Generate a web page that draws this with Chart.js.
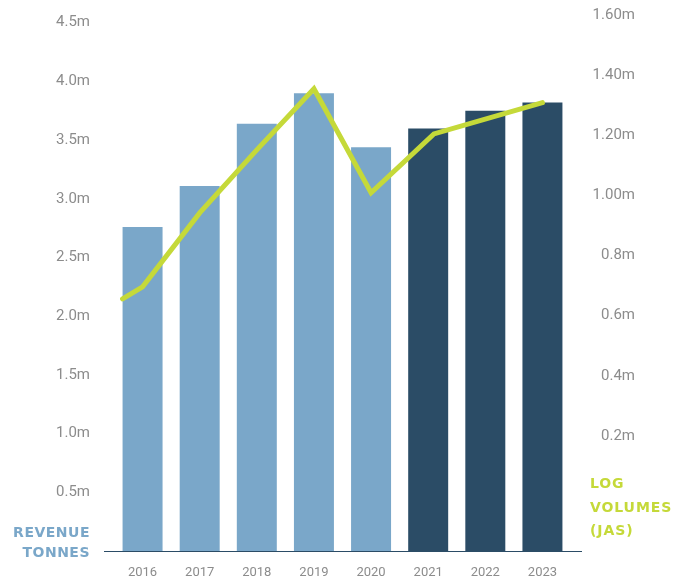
<!DOCTYPE html>
<html>
<head>
<meta charset="utf-8">
<script src="https://cdn.jsdelivr.net/npm/chart.js@4.4.0/dist/chart.umd.min.js"></script>
<style>
  html, body { margin: 0; padding: 0; background: #fff; }
  #wrap { position: relative; width: 691px; height: 579px; }
  #chart { position: absolute; left: 0; top: 0; }
  .ttl { position: absolute; font: bold 14px "DejaVu Sans", sans-serif; white-space: nowrap; }
</style>
</head>
<body>
<div id="wrap">
  <canvas id="chart" width="691" height="579"></canvas>
  <div class="ttl" style="right:601px; top:522px; line-height:20px; text-align:right; color:#7aa7c9; letter-spacing:0.5px;">REVENUE<br>TONNES</div>
  <div class="ttl" style="left:590px; top:472px; line-height:23.5px; color:#c5d939; letter-spacing:0.9px;">LOG<br>VOLUMES<br>(JAS)</div>
</div>
<script>
// revenue tonnes per year (millions)
const years = ['2016', '2017', '2018', '2019', '2020', '2021', '2022', '2023'];
const revenueTonnes = [2.76, 3.11, 3.64, 3.90, 3.44, 3.60, 3.75, 3.82];

// log volumes line (millions), positions along the year axis
const logVolumeX = [2015.65, 2016, 2017, 2018, 2019, 2020, 2021.1, 2023];
const logVolumes = [0.656, 0.696, 0.942, 1.152, 1.355, 1.009, 1.205, 1.309];

// axis ticks
const leftTicks = [0.5, 1.0, 1.5, 2.0, 2.5, 3.0, 3.5, 4.0, 4.5];
const rightTicks = [0.2, 0.4, 0.6, 0.8, 1.0, 1.2, 1.4, 1.6];
const rightTickLabels = ['0.2m', '0.4m', '0.6m', '0.8m', '1.00m', '1.20m', '1.40m', '1.60m'];

const lightBlue = '#7aa7c9';
const navy = '#2b4c66';
const lime = '#c5d939';
const tickGrey = '#8c8c8c';

// baseline under the bars, a bit wider than the plot area
const baseline = {
  id: 'baseline',
  afterDatasetsDraw(chart) {
    const {ctx, chartArea} = chart;
    const y = chart.scales.y.getPixelForValue(0);
    ctx.save();
    ctx.strokeStyle = navy;
    ctx.lineWidth = 1.2;
    ctx.beginPath();
    ctx.moveTo(chartArea.left - 10, y + 0.5);
    ctx.lineTo(chartArea.right + 11, y + 0.5);
    ctx.stroke();
    ctx.restore();
  }
};

window.onload = function() {
  const ctx = document.getElementById('chart').getContext('2d');
  new Chart(ctx, {
    data: {
      labels: years,
      datasets: [{
        type: 'line',
        label: 'Log volumes (JAS)',
        data: logVolumeX.map((x, i) => ({x: x, y: logVolumes[i]})),
        xAxisID: 'x2',
        yAxisID: 'y2',
        borderColor: lime,
        borderWidth: 5,
        borderCapStyle: 'round',
        borderJoinStyle: 'miter',
        pointRadius: 0,
        tension: 0,
        order: 0
      }, {
        type: 'bar',
        label: 'Revenue tonnes',
        data: revenueTonnes,
        xAxisID: 'x',
        yAxisID: 'y',
        backgroundColor: years.map((y, i) => i < 5 ? lightBlue : navy),
        grouped: false,
        barPercentage: 0.7,
        categoryPercentage: 1.0,
        order: 1
      }]
    },
    options: {
      responsive: false,
      devicePixelRatio: 1,
      animation: false,
      layout: { padding: { top: 11, right: 56, left: 0, bottom: 0 } },
      plugins: { legend: { display: false }, tooltip: { enabled: false } },
      scales: {
        x: {
          type: 'category',
          offset: true,
          grid: { display: false, drawTicks: false },
          border: { display: false },
          ticks: { color: tickGrey, font: { family: 'Roboto', size: 13 }, padding: 14, maxRotation: 0 },
          afterFit(s) { s.height = 28; s.paddingLeft = 0; s.paddingRight = 0; }
        },
        x2: {
          type: 'linear',
          display: false,
          min: 2015.5,
          max: 2023.5
        },
        y: {
          position: 'left',
          min: 0,
          max: 4.6,
          grid: { display: false, drawTicks: false },
          border: { display: false },
          afterBuildTicks(s) { s.ticks = leftTicks.map(v => ({value: v})); },
          ticks: {
            color: tickGrey,
            font: { family: 'Roboto', size: 15 },
            padding: 24,
            callback: v => v.toFixed(1) + 'm'
          },
          afterFit(s) { s.width = 114; s.paddingTop = 0; s.paddingBottom = 0; }
        },
        y2: {
          position: 'right',
          min: -0.183,
          max: 1.614,
          grid: { display: false, drawTicks: false },
          border: { display: false },
          afterBuildTicks(s) { s.ticks = rightTicks.map(v => ({value: v})); },
          ticks: {
            color: tickGrey,
            font: { family: 'Roboto', size: 15 },
            padding: 21,
            crossAlign: 'far',
            callback: (v, i) => rightTickLabels[i]
          },
          afterFit(s) { s.width = 64; s.paddingTop = 0; s.paddingBottom = 0; }
        }
      }
    },
    plugins: [baseline]
  });
};
</script>
</body>
</html>
